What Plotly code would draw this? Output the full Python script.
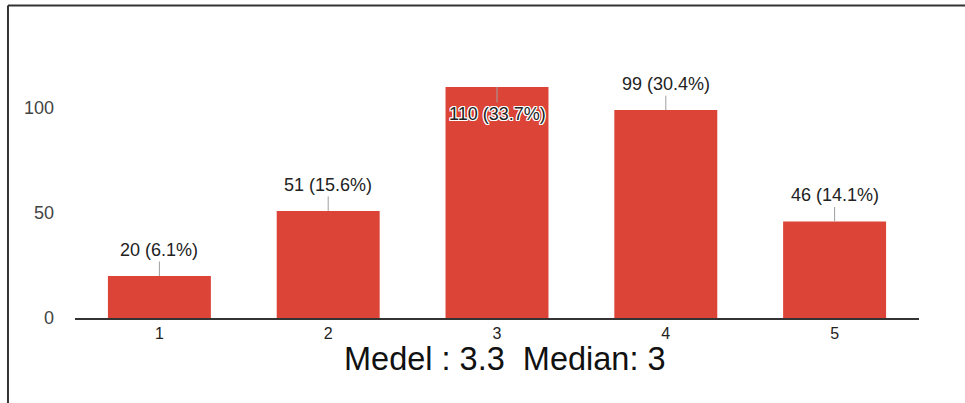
import plotly.graph_objects as go

# Rating distribution (1-5 scale) with counts and share of responses
ratings = [1, 2, 3, 4, 5]
rating_labels = ["1", "2", "3", "4", "5"]
counts = [20, 51, 110, 99, 46]
shares = [6.1, 15.6, 33.7, 30.4, 14.1]
summary_text = "Medel : 3.3\u00a0\u00a0Median: 3"

BAR_COLOR = "#dc4437"
TEXT_COLOR = "#222222"
FONT = "Liberation Sans, Arial, sans-serif"

fig = go.Figure(
    go.Bar(
        x=ratings,
        y=counts,
        marker=dict(color=BAR_COLOR, line=dict(width=0)),
        hoverinfo="skip",
    )
)

# value labels with a short leader line; the tallest bar gets its label inside
halo = ("-1px -1px 0 #fff, 1px -1px 0 #fff, -1px 1px 0 #fff, 1px 1px 0 #fff, "
        "0 -1px 0 #fff, 0 1px 0 #fff, -1px 0 0 #fff, 1px 0 0 #fff")
top = max(counts)
for r, c, s in zip(ratings, counts, shares):
    inside = c == top
    fig.add_annotation(
        x=r, y=c, xref="x", yref="y",
        text=f"{c} ({s}%)",
        showarrow=True, arrowhead=0, arrowwidth=1, arrowcolor="#9e9e9e",
        ax=0, ay=27 if inside else -26,
        font=dict(family=FONT, size=18, color=TEXT_COLOR,
                  shadow=halo if inside else "none"),
        standoff=0,
    )

# summary line under the axis
fig.add_annotation(
    x=0.5095, y=-0.152, xref="paper", yref="paper",
    text=summary_text, showarrow=False,
    xanchor="center", yanchor="middle",
    font=dict(family=FONT, size=32.5, color="#111111"),
)

# frame lines along the top and left edges
fig.add_shape(type="line", xref="paper", yref="paper",
              x0=-0.0794, x1=1.07, y0=1.1447, y1=1.1447,
              line=dict(color="#333333", width=2))
fig.add_shape(type="line", xref="paper", yref="paper",
              x0=-0.0794, x1=-0.0794, y0=1.1447, y1=-0.35,
              line=dict(color="#333333", width=2))

fig.update_layout(
    width=965, height=403,
    margin=dict(l=75, r=46, t=45, b=85),
    paper_bgcolor="white", plot_bgcolor="white",
    bargap=0.39,
    showlegend=False,
    font=dict(family=FONT, color=TEXT_COLOR),
)
fig.update_xaxes(
    range=[0.5, 5.5], tickvals=ratings, ticktext=rating_labels,
    showgrid=False, zeroline=False,
    showline=True, linecolor="#333333", linewidth=2,
    ticks="", tickfont=dict(size=16, color=TEXT_COLOR),
    fixedrange=True,
)
fig.update_yaxes(
    range=[0, 130], tickvals=[0, 50, 100], showgrid=False, zeroline=False,
    showline=False, ticks="", ticklabelstandoff=20,
    tickfont=dict(size=18, color="#444444"), fixedrange=True,
)

fig.write_html("out.html", config={"displayModeBar": False})
